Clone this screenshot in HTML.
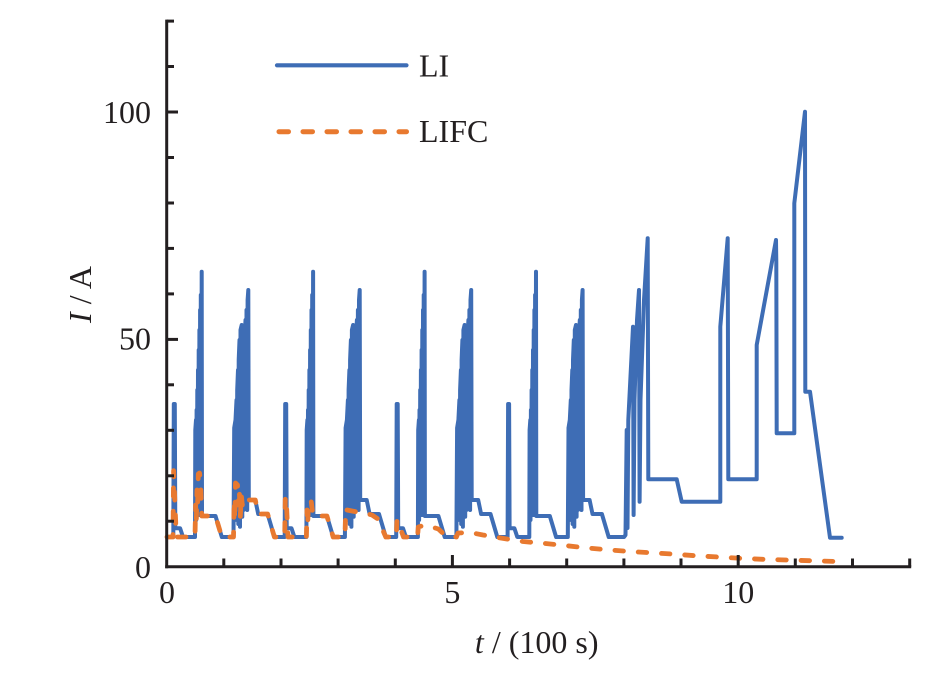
<!DOCTYPE html>
<html>
<head>
<meta charset="utf-8">
<style>
  html, body { margin: 0; padding: 0; background: #ffffff; }
  svg { display: block; }
  text { font-family: "Liberation Serif", "Times New Roman", serif; fill: #231f20; }
</style>
</head>
<body>
<svg width="939" height="680" viewBox="0 0 939 680" xmlns="http://www.w3.org/2000/svg">
  <rect x="0" y="0" width="939" height="680" fill="#ffffff"/>

  <!-- Blue LI series: 4 ECE cycles (template) -->
  <g fill="none" stroke="#3e6db5" stroke-width="4" stroke-linejoin="round" stroke-linecap="round">
    <g transform="translate(167,0)">
      <polyline points="0,537 6.3,537 6.8,404 7.8,404 8.3,528.3 13.1,528.3 16,537 28,537 28.3,430 29,420 29.2,520 29.6,410 29.9,515 30.3,390 30.6,515 31,370 31.3,515 31.7,350 32,515 32.4,330 32.7,515 33.1,310 33.4,515 33.8,295 34.1,512 34.7,271.7 35,516 48.5,516 54.8,537 66.5,537 67.2,428 68.5,420 69.5,400 69.8,520 70.2,390 71,370 71.3,524 71.7,360 72.5,340 73,526.7 73.5,330 74.7,325 75.3,516.7 75.7,370 76,357 76.5,510 77,350 77.5,505 78,330 78.5,320 79,508 79.5,310 80.2,510 80.6,300 81.3,290 81.8,500 88.3,500 91.2,514 100.6,514 107.4,537 111.4,537"/>
    </g>
    <g transform="translate(278.4,0)">
      <polyline points="0,537 6.3,537 6.8,404 7.8,404 8.3,528.3 13.1,528.3 16,537 28,537 28.3,430 29,420 29.2,520 29.6,410 29.9,515 30.3,390 30.6,515 31,370 31.3,515 31.7,350 32,515 32.4,330 32.7,515 33.1,310 33.4,515 33.8,295 34.1,512 34.7,271.7 35,516 48.5,516 54.8,537 66.5,537 67.2,428 68.5,420 69.5,400 69.8,520 70.2,390 71,370 71.3,524 71.7,360 72.5,340 73,526.7 73.5,330 74.7,325 75.3,516.7 75.7,370 76,357 76.5,510 77,350 77.5,505 78,330 78.5,320 79,508 79.5,310 80.2,510 80.6,300 81.3,290 81.8,500 88.3,500 91.2,514 100.6,514 107.4,537 111.4,537"/>
    </g>
    <g transform="translate(389.9,0)">
      <polyline points="0,537 6.3,537 6.8,404 7.8,404 8.3,528.3 13.1,528.3 16,537 28,537 28.3,430 29,420 29.2,520 29.6,410 29.9,515 30.3,390 30.6,515 31,370 31.3,515 31.7,350 32,515 32.4,330 32.7,515 33.1,310 33.4,515 33.8,295 34.1,512 34.7,271.7 35,516 48.5,516 54.8,537 66.5,537 67.2,428 68.5,420 69.5,400 69.8,520 70.2,390 71,370 71.3,524 71.7,360 72.5,340 73,526.7 73.5,330 74.7,325 75.3,516.7 75.7,370 76,357 76.5,510 77,350 77.5,505 78,330 78.5,320 79,508 79.5,310 80.2,510 80.6,300 81.3,290 81.8,500 88.3,500 91.2,514 100.6,514 107.4,537 111.4,537"/>
    </g>
    <g transform="translate(501.3,0)">
      <polyline points="0,537 6.3,537 6.8,404 7.8,404 8.3,528.3 13.1,528.3 16,537 28,537 28.3,430 29,420 29.2,520 29.6,410 29.9,515 30.3,390 30.6,515 31,370 31.3,515 31.7,350 32,515 32.4,330 32.7,515 33.1,310 33.4,515 33.8,295 34.1,512 34.7,271.7 35,516 48.5,516 54.8,537 66.5,537 67.2,428 68.5,420 69.5,400 69.8,520 70.2,390 71,370 71.3,524 71.7,360 72.5,340 73,526.7 73.5,330 74.7,325 75.3,516.7 75.7,370 76,357 76.5,510 77,350 77.5,505 78,330 78.5,320 79,508 79.5,310 80.2,510 80.6,300 81.3,290 81.8,500 88.3,500 91.2,514 100.6,514 107.4,537 111.4,537"/>
    </g>
    <!-- EUDC -->
    <polyline points="612.7,537 624,537 625.5,535 626.7,430 627.5,528 628.3,420 633,326.7 633.6,515 634.5,400 637,320 639,290 639.6,501.7 640.5,400 644,300 647.7,238.3 648.3,479.3 676.7,479.3 681.7,501.7 720.3,501.7 720.3,326.7 727.7,238.3 728.3,479.3 756.7,479.3 756.7,345 776,240 776.3,261.7 776.7,433.3 794.3,433.3 794.3,203.3 805,111.7 805.3,391.7 810,391.7 830,537.7 841.7,537.7"/>
  </g>

  <!-- Orange LIFC series -->
  <polyline fill="none" stroke="#e8792f" stroke-width="4.8" stroke-linejoin="round" stroke-linecap="round" stroke-dasharray="8.5 14.8"
    points="167,537 173,537 173.6,470.7 175,505 176.3,537 195,537 195.6,505 196.3,522 197,490 197.6,505 198.3,474 199.5,473 200.5,480 201.8,516 215.5,516 221.8,537 233.5,537 234.2,500 234.8,520 235.5,483 237.5,485 238.3,505 239.3,490 240.3,517 241.3,495 242.3,505 244,497 246,500 255.3,500 258.2,514 267.6,514 274.4,537 284.7,537 285.3,497 286.5,505 288,537 306.4,537 307,510 307.6,525 308.5,505 309.5,500 311,500 313.1,516 326.9,516 333.2,537 345,537 345.7,508 347,510 352,511 360,512.5 366.7,513.5 372,515 378,519 385.8,537 396.3,537 397,520 399,523 401,530 403.5,537 417.5,537 418.3,527 425,525 432,527 438.4,529 444.7,535 456.4,537 458,533 470,532.5 483,535 495,537 513,540 523,541.5 540,543 560,545 583,547.5 601.7,549.3 626.7,551.3 650,552.7 671.7,554 695,555.7 718,557 740,558.3 763,559.3 786.7,560 810,560.7 838,561.5"/>

  <!-- Axes -->
  <g stroke="#231f20" stroke-width="3" fill="none">
    <line x1="166.7" y1="19.6" x2="166.7" y2="568.2"/>
    <line x1="165.2" y1="566.7" x2="911.2" y2="566.7"/>
    <!-- y ticks -->
    <line x1="166.7" y1="21.1" x2="174" y2="21.1"/>
    <line x1="166.7" y1="66.5" x2="174" y2="66.5"/>
    <line x1="166.7" y1="112" x2="178" y2="112"/>
    <line x1="166.7" y1="157.5" x2="174" y2="157.5"/>
    <line x1="166.7" y1="203" x2="174" y2="203"/>
    <line x1="166.7" y1="248.4" x2="174" y2="248.4"/>
    <line x1="166.7" y1="293.9" x2="174" y2="293.9"/>
    <line x1="166.7" y1="339.4" x2="178" y2="339.4"/>
    <line x1="166.7" y1="384.8" x2="174" y2="384.8"/>
    <line x1="166.7" y1="430.3" x2="174" y2="430.3"/>
    <line x1="166.7" y1="475.8" x2="174" y2="475.8"/>
    <line x1="166.7" y1="521.2" x2="174" y2="521.2"/>
    <!-- x ticks -->
    <line x1="223.8" y1="566.7" x2="223.8" y2="558.5"/>
    <line x1="281" y1="566.7" x2="281" y2="558.5"/>
    <line x1="338.1" y1="566.7" x2="338.1" y2="558.5"/>
    <line x1="395.3" y1="566.7" x2="395.3" y2="558.5"/>
    <line x1="452.4" y1="566.7" x2="452.4" y2="555"/>
    <line x1="509.6" y1="566.7" x2="509.6" y2="558.5"/>
    <line x1="566.7" y1="566.7" x2="566.7" y2="558.5"/>
    <line x1="623.9" y1="566.7" x2="623.9" y2="558.5"/>
    <line x1="681" y1="566.7" x2="681" y2="558.5"/>
    <line x1="738.2" y1="566.7" x2="738.2" y2="555"/>
    <line x1="795.3" y1="566.7" x2="795.3" y2="558.5"/>
    <line x1="852.5" y1="566.7" x2="852.5" y2="558.5"/>
    <line x1="909.7" y1="566.7" x2="909.7" y2="558.5"/>
  </g>

  <!-- Tick labels -->
  <g font-size="32">
    <text x="151" y="123" text-anchor="end">100</text>
    <text x="151" y="349.5" text-anchor="end">50</text>
    <text x="151" y="578" text-anchor="end">0</text>
    <text x="167" y="603" text-anchor="middle">0</text>
    <text x="452.4" y="603" text-anchor="middle">5</text>
    <text x="738.2" y="603" text-anchor="middle">10</text>
  </g>

  <!-- Axis titles -->
  <text font-size="32" x="536.7" y="653" text-anchor="middle"><tspan font-style="italic">t</tspan> / (100 s)</text>
  <text font-size="32" transform="translate(91,294.5) rotate(-90)" text-anchor="middle"><tspan font-style="italic">I</tspan> / A</text>

  <!-- Legend -->
  <line x1="277" y1="65.3" x2="406.5" y2="65.3" stroke="#3e6db5" stroke-width="4.2" stroke-linecap="round"/>
  <line x1="279" y1="131.7" x2="406.5" y2="131.7" stroke="#e8792f" stroke-width="5" stroke-linecap="round" stroke-dasharray="9.5 14.5"/>
  <text font-size="32" x="419" y="76.7">LI</text>
  <text font-size="32" x="419" y="142">LIFC</text>
</svg>
</body>
</html>
